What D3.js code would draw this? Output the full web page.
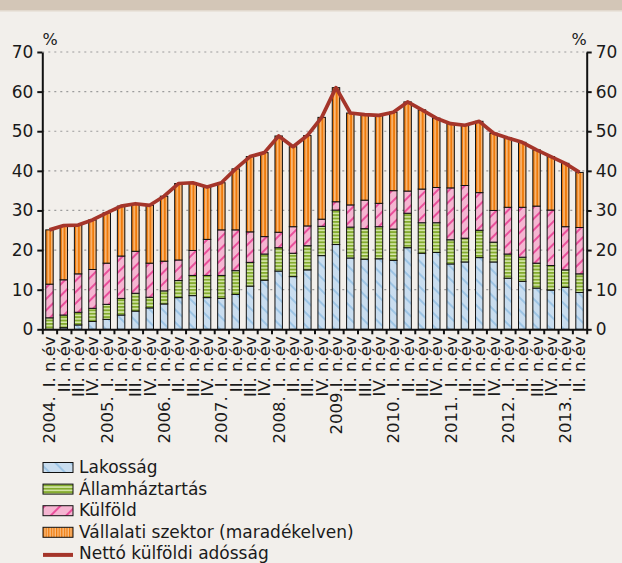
<!DOCTYPE html>
<html>
<head>
<meta charset="utf-8">
<script src="https://cdn.jsdelivr.net/npm/d3@7"></script>
<style>
  html, body { margin: 0; padding: 0; background: #f2efeb; }
  svg { display: block; }
  text { font-family: "DejaVu Sans", sans-serif; fill: #1a1a1a; }
</style>
</head>
<body>
<div id="chart"></div>
<script>
const quarterLabels = [
  '2004. I. n.év', 'II. n.év', 'III. n.év', 'IV. n.év',
  '2005. I. n.év', 'II. n.év', 'III. n.év', 'IV. n.év',
  '2006. I. n.év', 'II. n.év', 'III. n.év', 'IV. n.év',
  '2007. I. n.év', 'II. n.év', 'III. n.év', 'IV. n.év',
  '2008. I. n.év', 'II. n.év', 'III. n.év', 'IV. n.év',
  '2009.I. n.év', 'II. n.év', 'III. n.év', 'IV. n.év',
  '2010. I. n.év', 'II. n.év', 'III. n.év', 'IV. n.év',
  '2011. I. n.év', 'II. n.év', 'III. n.év', 'IV. n.év',
  '2012. I. n.év', 'II. n.év', 'III. n.év', 'IV. n.év',
  '2013. I. n.év', 'II. n.év'
];

// households
const lakossag = [0.0, 0.4, 1.1, 2.0, 2.5, 3.6, 4.6, 5.4, 6.4, 8.0, 8.5, 8.0, 7.8, 8.8, 10.9, 12.4, 14.7, 13.3, 15.0, 18.6,
  21.4, 18.0, 17.7, 17.8, 17.4, 20.6, 19.2, 19.4, 16.5, 17.0, 18.1, 17.0, 12.9, 12.1, 10.4, 9.9, 10.6, 9.3];
// general government
const allamhaztartas = [2.9, 3.2, 3.2, 3.3, 3.8, 4.2, 4.5, 2.7, 3.3, 4.3, 5.1, 5.6, 5.8, 6.0, 6.0, 6.6, 5.9, 5.9, 6.1, 7.4,
  8.7, 7.8, 7.7, 8.1, 7.9, 8.7, 7.7, 7.5, 6.1, 6.0, 6.9, 5.0, 6.1, 6.1, 6.3, 6.2, 4.4, 4.7];
// rest of the world
const kulfold = [8.5, 8.9, 9.7, 9.8, 10.4, 10.7, 10.6, 8.6, 7.5, 5.2, 6.3, 9.1, 11.5, 10.3, 7.7, 4.4, 3.9, 6.7, 5.0, 1.8,
  2.1, 5.6, 7.2, 5.9, 9.7, 5.6, 8.5, 8.9, 13.1, 13.3, 9.5, 8.0, 11.8, 12.6, 14.4, 14.0, 10.9, 11.7];
// corporate sector (residual)
const vallalati = [13.7, 13.7, 12.3, 12.5, 12.7, 12.6, 12.0, 14.6, 16.4, 19.3, 17.1, 13.2, 11.9, 15.4, 19.0, 21.2, 24.3, 20.2, 22.8, 25.7,
  28.8, 23.2, 21.6, 22.2, 19.8, 22.5, 20.0, 17.5, 16.2, 15.2, 18.0, 19.5, 17.5, 16.4, 14.2, 13.5, 16.0, 13.9];
// net external debt
const nettoAdossag = [25.1, 26.2, 26.3, 27.6, 29.4, 31.1, 31.7, 31.3, 33.6, 36.8, 37.0, 35.9, 37.0, 40.5, 43.6, 44.6, 48.8, 46.1, 48.9, 53.5,
  61.0, 54.6, 54.2, 54.0, 54.8, 57.4, 55.4, 53.3, 51.9, 51.5, 52.5, 49.5, 48.3, 47.2, 45.3, 43.6, 41.9, 39.6];

const yTicks = [0, 10, 20, 30, 40, 50, 60, 70];

const seriesKeys = ['lakossag', 'allam', 'kulfold', 'vallalati'];
const seriesNames = {
  lakossag: 'Lakosság',
  allam: 'Államháztartás',
  kulfold: 'Külföld',
  vallalati: 'Vállalati szektor (maradékelven)'
};
const lineName = 'Nettó külföldi adósság';


class NetDebtChart {

  constructor(options) {
    this.root = options.root;
    this.width = 622;
    this.height = 563;
    this.plot = {left: 42.3, right: 586.7, top: 52, bottom: 329.3};
  }

  draw() {
    this.svg = this.root.append('svg')
      .attr('width', this.width)
      .attr('height', this.height);

    this.svg.append('rect')
      .attr('width', this.width).attr('height', this.height)
      .attr('fill', '#f2efeb');
    this.svg.append('rect')
      .attr('width', this.width).attr('height', 10)
      .attr('fill', '#d3c6b7');
    this.svg.append('rect')
      .attr('y', 10).attr('width', this.width).attr('height', 1.5)
      .attr('fill', '#e2d9ce');

    const rows = quarterLabels.map((q, i) => ({
      i: i,
      lakossag: lakossag[i],
      allam: allamhaztartas[i],
      kulfold: kulfold[i],
      vallalati: vallalati[i],
      net: nettoAdossag[i]
    }));

    this.x = d3.scaleBand()
      .domain(d3.range(quarterLabels.length))
      .range([this.plot.left, this.plot.right])
      .paddingInner(0.48)
      .paddingOuter(0.24);

    this.y = d3.scaleLinear()
      .domain([0, 70])
      .range([this.plot.bottom, this.plot.top]);

    this.makePatterns();
    this.drawGrid();

    const stacked = d3.stack().keys(seriesKeys)(rows);

    this.svg.append('g')
      .selectAll('g')
      .data(stacked).enter()
      .append('g')
      .attr('fill', d => `url(#pat-${d.key})`)
      .selectAll('rect')
      .data(d => d).enter()
      .append('rect')
      .attr('x', d => this.x(d.data.i))
      .attr('width', this.x.bandwidth())
      .attr('y', d => this.y(d[1]))
      .attr('height', d => this.y(d[0]) - this.y(d[1]))
      .attr('stroke', '#111')
      .attr('stroke-width', 1);

    const line = d3.line()
      .x(d => this.x(d.i) + this.x.bandwidth() / 2)
      .y(d => this.y(d.net));

    this.svg.append('path')
      .datum(rows)
      .attr('d', line)
      .attr('fill', 'none')
      .attr('stroke', '#a5352a')
      .attr('stroke-width', 3.7)
      .attr('stroke-linejoin', 'round');

    this.drawAxes();
    this.drawLegend();
  }

  makePatterns() {
    const defs = this.svg.append('defs');
    const step = this.x.step();

    // blue with "\" hatching
    const lak = defs.append('pattern')
      .attr('id', 'pat-lakossag')
      .attr('patternUnits', 'userSpaceOnUse')
      .attr('width', 9).attr('height', 9)
      .attr('patternTransform', 'rotate(-45)');
    lak.append('rect').attr('width', 9).attr('height', 9).attr('fill', '#c9ddef');
    lak.append('line').attr('x1', 4).attr('x2', 4).attr('y1', 0).attr('y2', 9)
      .attr('stroke', '#80b3dd').attr('stroke-width', 1.2);

    // green with pale horizontal stripes
    const all = defs.append('pattern')
      .attr('id', 'pat-allam')
      .attr('patternUnits', 'userSpaceOnUse')
      .attr('width', 10).attr('height', 3.4);
    all.append('rect').attr('width', 10).attr('height', 3.4).attr('fill', '#83ab2d');
    all.append('rect').attr('y', 1.9).attr('width', 10).attr('height', 1.5).attr('fill', '#d8e9ae');

    // pink with "/" hatching
    const kul = defs.append('pattern')
      .attr('id', 'pat-kulfold')
      .attr('patternUnits', 'userSpaceOnUse')
      .attr('width', 8).attr('height', 8)
      .attr('patternTransform', 'rotate(45)');
    kul.append('rect').attr('width', 8).attr('height', 8).attr('fill', '#f5b5d1');
    kul.append('line').attr('x1', 4).attr('x2', 4).attr('y1', 0).attr('y2', 8)
      .attr('stroke', '#e5197f').attr('stroke-width', 1.3);

    // orange with pale vertical stripes, aligned to the bars
    const pw = step / 4;
    const val = defs.append('pattern')
      .attr('id', 'pat-vallalati')
      .attr('patternUnits', 'userSpaceOnUse')
      .attr('x', this.x(0))
      .attr('width', pw).attr('height', 10);
    val.append('rect').attr('width', pw).attr('height', 10).attr('fill', '#ef7b0b');
    val.append('rect').attr('x', pw * 0.55).attr('width', 1.3).attr('height', 10).attr('fill', '#fbc793');

    // legend versions
    const lv = defs.append('pattern')
      .attr('id', 'leg-vallalati')
      .attr('patternUnits', 'userSpaceOnUse')
      .attr('width', 2.6).attr('height', 10);
    lv.append('rect').attr('width', 2.6).attr('height', 10).attr('fill', '#ef7b0b');
    lv.append('rect').attr('x', 1.3).attr('width', 1.2).attr('height', 10).attr('fill', '#fbc793');

    const ll = defs.append('pattern')
      .attr('id', 'leg-lakossag')
      .attr('patternUnits', 'userSpaceOnUse')
      .attr('width', 11).attr('height', 11)
      .attr('patternTransform', 'rotate(-45)');
    ll.append('rect').attr('width', 11).attr('height', 11).attr('fill', '#c9ddef');
    ll.append('line').attr('x1', 5).attr('x2', 5).attr('y1', 0).attr('y2', 11)
      .attr('stroke', '#80b3dd').attr('stroke-width', 1.2);

    const lk = defs.append('pattern')
      .attr('id', 'leg-kulfold')
      .attr('patternUnits', 'userSpaceOnUse')
      .attr('width', 11).attr('height', 11)
      .attr('patternTransform', 'rotate(45)');
    lk.append('rect').attr('width', 11).attr('height', 11).attr('fill', '#f5b5d1');
    lk.append('line').attr('x1', 5).attr('x2', 5).attr('y1', 0).attr('y2', 11)
      .attr('stroke', '#e5197f').attr('stroke-width', 1.3);
  }

  drawGrid() {
    this.svg.append('g')
      .selectAll('line')
      .data(yTicks.filter(t => t > 0)).enter()
      .append('line')
      .attr('x1', this.plot.left)
      .attr('x2', this.plot.right)
      .attr('y1', d => this.y(d))
      .attr('y2', d => this.y(d))
      .attr('stroke', '#9c9c9c')
      .attr('stroke-width', 1.2)
      .attr('stroke-dasharray', '2,4');
  }

  drawAxes() {
    const styleAxis = g => {
      g.selectAll('path, line').attr('stroke', '#111').attr('stroke-width', 2);
      g.selectAll('text')
        .style('font-family', '"DejaVu Sans", sans-serif')
        .style('font-size', '17px')
        .attr('fill', '#1a1a1a');
    };

    this.svg.append('g')
      .attr('transform', `translate(${this.plot.left},0)`)
      .call(d3.axisLeft(this.y).tickValues(yTicks).tickSize(5).tickSizeOuter(0).tickPadding(4))
      .call(styleAxis);

    this.svg.append('g')
      .attr('transform', `translate(${this.plot.right},0)`)
      .call(d3.axisRight(this.y).tickValues(yTicks).tickSize(5).tickSizeOuter(0).tickPadding(4))
      .call(styleAxis);

    const n = quarterLabels.length;
    const xEdge = d3.scaleLinear()
      .domain([0, n])
      .range([this.plot.left, this.plot.right]);

    this.svg.append('g')
      .attr('transform', `translate(0,${this.plot.bottom})`)
      .call(d3.axisBottom(xEdge).tickValues(d3.range(n + 1)).tickFormat('').tickSize(5).tickSizeOuter(0))
      .call(styleAxis);

    // year prefix and quarter part, with a wider gap like the original
    const labels = this.svg.append('g')
      .selectAll('text')
      .data(quarterLabels).enter()
      .append('text')
      .attr('transform', (d, i) => `translate(${this.x(i) + this.x.bandwidth() / 2},${this.plot.bottom + 7}) rotate(-90)`)
      .attr('text-anchor', 'end')
      .attr('dy', '0.36em')
      .style('font-size', '16.5px');

    labels.each(function(d) {
      const m = d.match(/^(\d{4}\.)( ?)(.*)$/);
      const t = d3.select(this);
      if (!m) {
        t.text(d);
        return;
      }
      t.append('tspan').text(m[1]);
      t.append('tspan').attr('dx', m[2] ? 9 : 0).text(m[3]);
    });

    this.svg.append('text')
      .attr('x', 50).attr('y', 45)
      .attr('text-anchor', 'middle')
      .style('font-size', '16px')
      .text('%');
    this.svg.append('text')
      .attr('x', this.plot.right).attr('y', 45)
      .attr('text-anchor', 'end')
      .style('font-size', '16px')
      .text('%');
  }

  drawLegend() {
    const legendItems = seriesKeys.map(k => ({key: k, name: seriesNames[k], type: 'box'}))
      .concat([{key: 'net', name: lineName, type: 'line'}]);

    const items = this.svg.append('g')
      .selectAll('g')
      .data(legendItems).enter()
      .append('g')
      .attr('transform', (d, i) => `translate(43,${473 + i * 21.6})`);

    items.filter(d => d.type === 'box')
      .append('rect')
      .attr('y', -10.5)
      .attr('width', 30).attr('height', 10)
      .attr('fill', d => d.key === 'allam' ? 'url(#pat-allam)' : `url(#leg-${d.key})`)
      .attr('stroke', '#111')
      .attr('stroke-width', 1);

    items.filter(d => d.type === 'line')
      .append('line')
      .attr('x1', 0).attr('x2', 30)
      .attr('y1', -4.5).attr('y2', -4.5)
      .attr('stroke', '#a5352a')
      .attr('stroke-width', 4);

    items.append('text')
      .attr('x', 36)
      .style('font-size', '17px')
      .text(d => d.name);
  }
}

const chart = new NetDebtChart({root: d3.select('#chart')});
chart.draw();
</script>
</body>
</html>
